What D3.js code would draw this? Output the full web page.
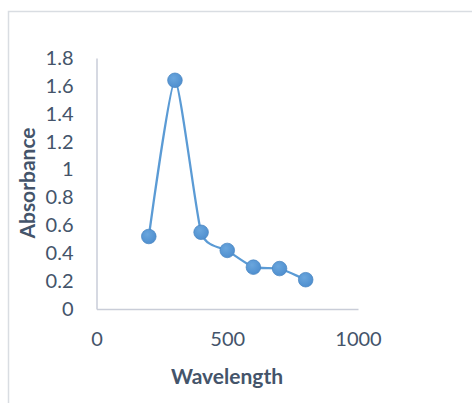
<!DOCTYPE html>
<html>
<head>
<meta charset="utf-8">
<script src="https://cdn.jsdelivr.net/npm/d3@7/dist/d3.min.js"></script>
<style>
  html, body { margin: 0; padding: 0; background: #fff; }
  svg { display: block; }
  text { font-family: Lato, "Open Sans", sans-serif; fill: #44546a; }
</style>
</head>
<body>
<script>
// Absorbance spectrum measurements
const wavelength = [200, 300, 400, 500, 600, 700, 800];
const absorbance = [0.52, 1.64, 0.55, 0.42, 0.30, 0.29, 0.21];
const xTicks = [0, 500, 1000];
const yTicks = [0, 0.2, 0.4, 0.6, 0.8, 1, 1.2, 1.4, 1.6, 1.8];

const W = 472, H = 403;
const svg = d3.select("body").append("svg").attr("width", W).attr("height", H);

// chart area frame
svg.append("rect")
  .attr("x", 8.5).attr("y", 11.5)
  .attr("width", 480).attr("height", 420)
  .attr("fill", "#fff").attr("stroke", "#d9dde2").attr("stroke-width", 1.5);

const x = d3.scaleLinear().domain([0, 1000]).range([96.5, 358]);
const y = d3.scaleLinear().domain([0, 1.8]).range([309, 58]);

// axes
const xAxis = svg.append("g").attr("transform", `translate(0,${y(0)})`)
  .call(d3.axisBottom(x).tickValues(xTicks).tickSize(0).tickPadding(23).tickFormat(d3.format("d")));
const yAxis = svg.append("g").attr("transform", `translate(${x(0)},0)`)
  .call(d3.axisLeft(y).tickValues(yTicks).tickSize(0).tickPadding(23).tickFormat(d => d3.format("")(+d.toFixed(1))));
[xAxis, yAxis].forEach(g => {
  g.select(".domain").attr("stroke", "#c9cdd8").attr("stroke-width", 1.5);
  g.selectAll("text").attr("font-size", 20).attr("font-family", "Lato").attr("fill", "#44546a");
});

// axis titles
svg.append("text")
  .attr("x", 227).attr("y", 384)
  .attr("text-anchor", "middle").attr("font-weight", "bold").attr("font-size", 21)
  .text("Wavelength");
svg.append("text")
  .attr("transform", "translate(35,183) rotate(-90)")
  .attr("text-anchor", "middle").attr("font-weight", "bold").attr("font-size", 21)
  .text("Absorbance");

// smoothed series line
const pts = wavelength.map((w, i) => [w, absorbance[i]]);
const line = d3.line().x(d => x(d[0])).y(d => y(d[1])).curve(d3.curveCardinal.tension(0.45));
svg.append("path").datum(pts)
  .attr("d", line).attr("fill", "none")
  .attr("stroke", "#5b9bd5").attr("stroke-width", 2.25);

// markers
const grad = svg.append("defs").append("radialGradient").attr("id", "mk")
  .attr("cx", "40%").attr("cy", "35%").attr("r", "65%");
grad.append("stop").attr("offset", "0%").attr("stop-color", "#6aa6dd");
grad.append("stop").attr("offset", "100%").attr("stop-color", "#4f8fcf");
svg.selectAll("circle.pt").data(pts).enter().append("circle")
  .attr("class", "pt")
  .attr("cx", d => x(d[0])).attr("cy", d => y(d[1])).attr("r", 7.3)
  .attr("fill", "url(#mk)").attr("stroke", "#4a86c2").attr("stroke-width", 0.75);
</script>
</body>
</html>
